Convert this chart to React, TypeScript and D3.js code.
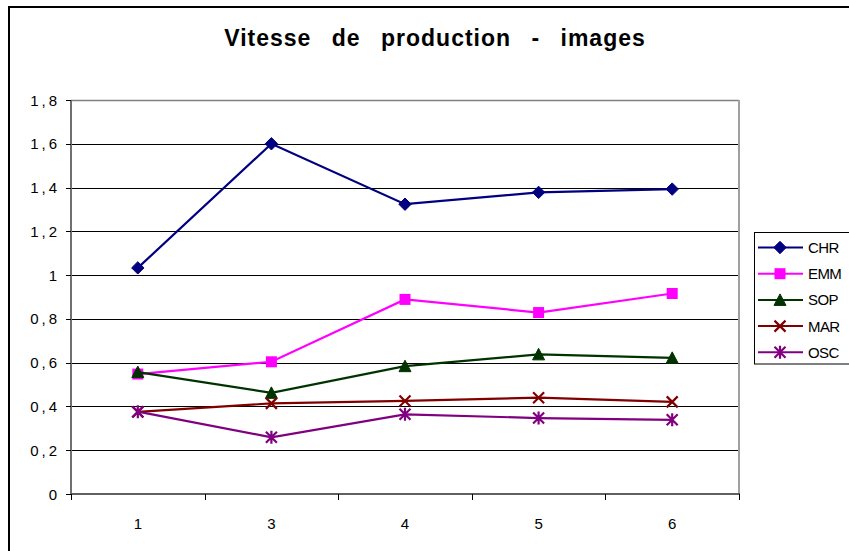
import React from "react";
import * as d3 from "d3";

const categories = ["1", "3", "4", "5", "6"];
const seriesNames = ["CHR", "EMM", "SOP", "MAR", "OSC"];
const chr = [1.033, 1.6, 1.324, 1.378, 1.393];
const emm = [0.548, 0.604, 0.889, 0.829, 0.916];
const sop = [0.557, 0.462, 0.584, 0.638, 0.622];
const mar = [0.375, 0.414, 0.425, 0.44, 0.421];
const osc = [0.376, 0.259, 0.364, 0.347, 0.339];
const yTicks = [0, 0.2, 0.4, 0.6, 0.8, 1, 1.2, 1.4, 1.6, 1.8];
const yTickLabels = ["0", "0,2", "0,4", "0,6", "0,8", "1", "1,2", "1,4", "1,6", "1,8"];
const colors = ["#000080", "#FF00FF", "#003300", "#800000", "#800080"];
const markers = ["diamond", "square", "triangle", "x", "star"];
const seriesValues = [chr, emm, sop, mar, osc];

const W = 849;
const H = 551;
const plot = { left: 71, top: 100, right: 739, bottom: 494 };

function Marker({ type, x, y, color }: { type: string; x: number; y: number; color: string }) {
  if (type === "diamond") {
    const s = 6.2;
    return <path d={`M${x},${y - s}L${x + s},${y}L${x},${y + s}L${x - s},${y}Z`} fill={color} stroke={color} strokeWidth={1} />;
  }
  if (type === "square") {
    const s = 5.5;
    return <rect x={x - s} y={y - s} width={2 * s} height={2 * s} fill={color} />;
  }
  if (type === "triangle") {
    const s = 6;
    return <path d={`M${x},${y - s}L${x + s},${y + s - 0.5}L${x - s},${y + s - 0.5}Z`} fill={color} stroke={color} strokeWidth={1} />;
  }
  if (type === "x") {
    const s = 5.5;
    return <path d={`M${x - s},${y - s}L${x + s},${y + s}M${x - s},${y + s}L${x + s},${y - s}`} stroke={color} strokeWidth={2.2} fill="none" />;
  }
  const s = 5.5;
  return (
    <path
      d={`M${x - s},${y - s}L${x + s},${y + s}M${x - s},${y + s}L${x + s},${y - s}M${x},${y - s - 1}L${x},${y + s + 1}`}
      stroke={color}
      strokeWidth={2.2}
      fill="none"
    />
  );
}

export default function App() {
  const x = d3.scaleBand<string>().domain(categories).range([plot.left, plot.right]).padding(0);
  const y = d3.scaleLinear().domain([0, 1.8]).range([plot.bottom, plot.top]);
  const cx = (c: string) => (x(c) as number) + x.bandwidth() / 2;
  const line = d3
    .line<number>()
    .x((_, i) => cx(categories[i]))
    .y((d) => y(d));

  const font = "Arial, 'Liberation Sans', sans-serif";
  const boundaries = categories.map((c) => x(c) as number).concat([plot.right]);

  return (
    <svg width={W} height={H} style={{ position: "absolute", left: 0, top: 0 }} fontFamily={font}>
      <rect x={0} y={0} width={W} height={H} fill="#fff" />
      <rect x={9} y={7} width={W + 20} height={H + 20} fill="none" stroke="#000" strokeWidth={2} />
      <text
        x={435}
        y={46}
        textAnchor="middle"
        fontSize={23}
        fontWeight="bold"
        letterSpacing={1}
        wordSpacing={13}
        fill="#000"
      >
        Vitesse de production - images
      </text>
      {/* gridlines */}
      {yTicks.map((t) => (
        <line key={t} x1={plot.left} x2={plot.right} y1={Math.round(y(t)) + 0.5} y2={Math.round(y(t)) + 0.5} stroke="#000" strokeWidth={1} />
      ))}
      {/* plot border */}
      <line x1={plot.left} x2={plot.right} y1={plot.top + 0.5} y2={plot.top + 0.5} stroke="#808080" strokeWidth={1.5} />
      <line x1={plot.right} x2={plot.right} y1={plot.top} y2={plot.bottom} stroke="#a0a0a0" strokeWidth={2} />
      <line x1={plot.left} x2={plot.left} y1={plot.top} y2={plot.bottom + 1} stroke="#707070" strokeWidth={2} />
      <line x1={plot.left} x2={plot.right + 1} y1={plot.bottom} y2={plot.bottom} stroke="#606060" strokeWidth={2} />
      {/* y ticks */}
      {yTicks.map((t, i) => (
        <g key={"yt" + t}>
          <line x1={plot.left - 5} x2={plot.left} y1={Math.round(y(t)) + 0.5} y2={Math.round(y(t)) + 0.5} stroke="#000" />
          <text x={60} y={y(t) + 5.5} textAnchor="end" fontSize={15} letterSpacing={3} fill="#000">
            {yTickLabels[i]}
          </text>
        </g>
      ))}
      {/* x ticks */}
      {boundaries.map((b, i) => (
        <line key={"xt" + i} x1={Math.round(b) + 0.5} x2={Math.round(b) + 0.5} y1={plot.bottom} y2={plot.bottom + 6} stroke="#000" />
      ))}
      {categories.map((c) => (
        <text key={"xl" + c} x={cx(c)} y={529} textAnchor="middle" fontSize={15} fill="#000">
          {c}
        </text>
      ))}
      {/* series */}
      {seriesValues.map((vals, si) => (
        <g key={seriesNames[si]}>
          <path d={line(vals) as string} fill="none" stroke={colors[si]} strokeWidth={2.2} />
          {vals.map((v, i) => (
            <Marker key={i} type={markers[si]} x={cx(categories[i])} y={y(v)} color={colors[si]} />
          ))}
        </g>
      ))}
      {/* legend */}
      <rect x={754.5} y={232.5} width={120} height={131.5} fill="#fff" stroke="#000" strokeWidth={1} />
      {seriesNames.map((n, i) => {
        const ly = 247.5 + i * 26.2;
        return (
          <g key={"lg" + n}>
            <line x1={758} x2={803} y1={ly} y2={ly} stroke={colors[i]} strokeWidth={2} />
            <Marker type={markers[i]} x={780} y={ly} color={colors[i]} />
            <text x={808} y={ly + 5.5} fontSize={15} letterSpacing={-0.6} fill="#000">
              {n}
            </text>
          </g>
        );
      })}
    </svg>
  );
}
